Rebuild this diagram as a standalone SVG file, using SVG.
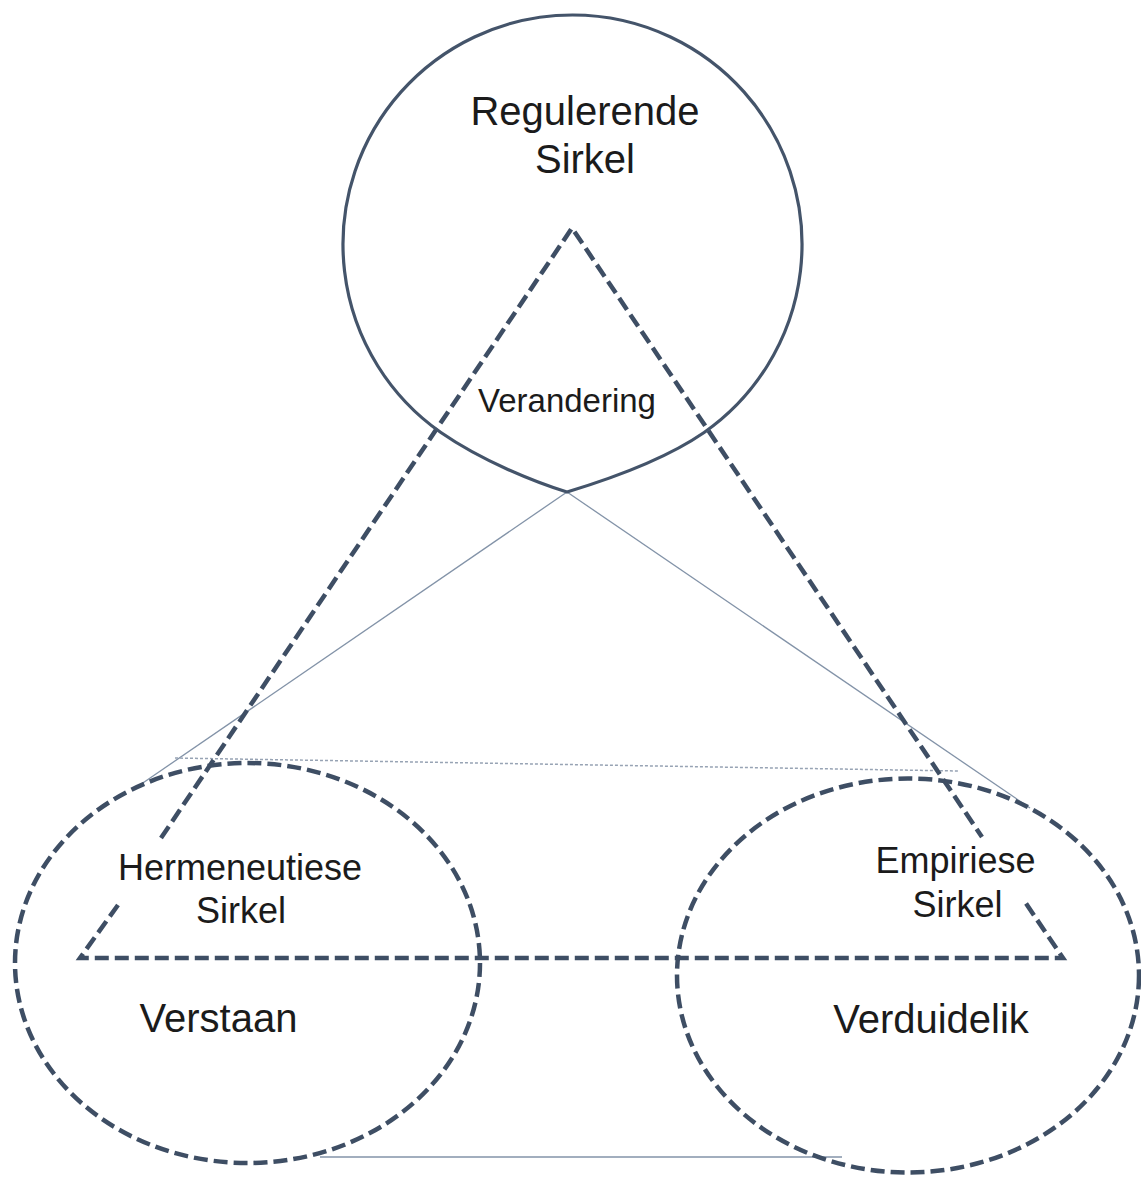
<svg xmlns="http://www.w3.org/2000/svg" width="1141" height="1178" viewBox="0 0 1141 1178">
  <style>
    .bg { fill: #ffffff; }
    .solid { fill: none; stroke: #44546a; stroke-width: 3.2; }
    .dash { fill: none; stroke: #3e4e64; stroke-width: 4.5; stroke-dasharray: 14 6; }
    .thin { fill: none; stroke: #8393a8; stroke-width: 1.3; }
    .dot { fill: none; stroke: #97a3b4; stroke-width: 1.5; stroke-dasharray: 3 2; }
    .lbl { font-family: "Liberation Sans", Arial, sans-serif; fill: #1b1b1b; text-anchor: middle; }
    .big { font-size: 40px; }
    .mid { font-size: 36px; }
    .sm { font-size: 33px; }
  </style>
  <rect class="bg" x="0" y="0" width="1141" height="1178"/>

  <g id="connectors">
    <line class="thin" x1="567" y1="492" x2="137" y2="787"/>
    <line class="thin" x1="567" y1="492" x2="1030" y2="808"/>
    <line class="dot" x1="175" y1="758" x2="958" y2="771"/>
    <line class="thin" x1="320" y1="1157" x2="842" y2="1157"/>
    <g id="dashed-triangle">
      <polyline class="dash" points="161,838 572,228 982,837"/>
      <polyline class="dash" points="118,905 80,958 1063,958 1025,902"/>
    </g>
  </g>

  <g id="regulerende">
    <path class="solid" d="M 704.1 432.5 C 663 461 600 482 567 492 C 535 482 482 461 440.9 432.5 A 229.5 229.5 0 1 1 704.1 432.5 Z"/>
    <text class="lbl big" x="585" y="125">Regulerende</text>
    <text class="lbl big" x="585" y="173">Sirkel</text>
  </g>

  <g id="verandering">
    <text class="lbl sm" x="567" y="412">Verandering</text>
  </g>

  <g id="hermeneutiese">
    <ellipse class="dash" cx="247.5" cy="963" rx="232.5" ry="200"/>
    <text class="lbl mid" x="240" y="880">Hermeneutiese</text>
    <text class="lbl mid" x="241" y="923">Sirkel</text>
    <text class="lbl big" x="218.5" y="1032">Verstaan</text>
  </g>

  <g id="empiriese">
    <ellipse class="dash" cx="908" cy="975.5" rx="231" ry="197"/>
    <text class="lbl mid" x="955.5" y="873">Empiriese</text>
    <text class="lbl mid" x="957.5" y="917">Sirkel</text>
    <text class="lbl big" x="931" y="1033">Verduidelik</text>
  </g>
</svg>
